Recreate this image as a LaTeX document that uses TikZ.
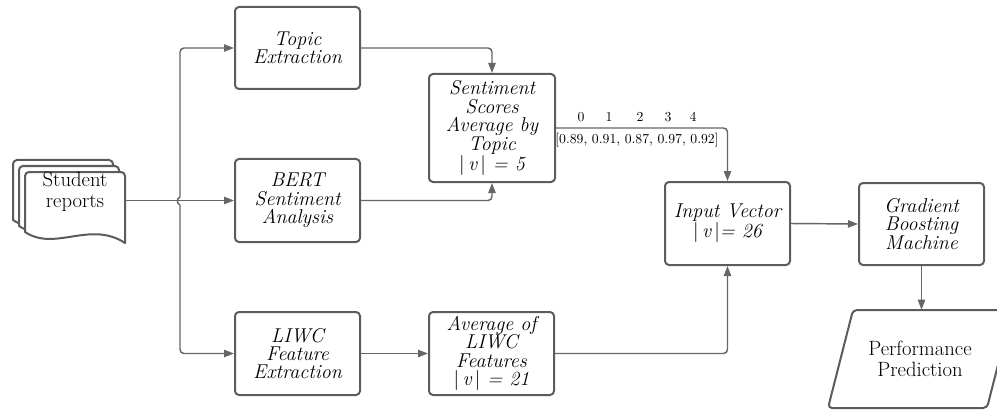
\documentclass[tikz,border=0pt]{standalone}
\usepackage{fontspec}
\usetikzlibrary{arrows.meta}
\definecolor{edgegray}{HTML}{666666}
\definecolor{boxgray}{HTML}{5C5C5C}
\newcommand{\vbar}{\textup{|}}

\begin{document}
\begin{tikzpicture}[x=0.75pt,y=-0.75pt,
  outline/.style={draw=boxgray, line width=1.5pt, line join=round},
  proc/.style={outline, rounded corners=3pt, fill=white, align=center,
    font=\fontsize{15}{13.8}\selectfont\itshape, inner sep=2pt},
  plainlabel/.style={align=center, font=\fontsize{15.5}{15.5}\selectfont, inner sep=0pt},
  plain/.style={draw=edgegray, line width=1.1pt, rounded corners=3pt},
  link/.style={plain, -{Triangle[length=7.5pt,width=5.5pt]}},
  idx/.style={font=\fontsize{10.3}{12}\selectfont, inner sep=0pt},
]
\useasboundingbox (0,0) rectangle (997,410);

% stacked document pages
\foreach \d in {12,6,0}{
  \begin{scope}[shift={(-\d,-\d)}]
    \draw[outline, fill=white] (125,243) .. controls (90,220) and (55,252) .. (25,232)
      [rounded corners=3pt] -- (25,172) -- (125,172) [sharp corners] -- cycle;
  \end{scope}
}
\node[minimum width=75pt, minimum height=52.5pt, inner sep=0pt] (doc) at (75,207) {};
\node[plainlabel] (doclabel) at (75,192) {Student\\reports};

% processing boxes
\node[proc, minimum width=93.75pt, minimum height=61.5pt] (topic) at (297.5,48) {Topic\\Extraction};
\node[proc, minimum width=93.75pt, minimum height=62.25pt] (bert) at (297.5,200.5) {BERT\\Sentiment\\Analysis};
\node[proc, minimum width=93.75pt, minimum height=62.25pt] (liwc) at (297.5,353.5) {LIWC\\Feature\\Extraction};
\node[proc, minimum width=94.5pt, minimum height=81pt] (sent) at (492,128)
  {Sentiment\\Scores\\Average by\\Topic\\\vbar\,v\,\vbar{} = 5};
\node[proc, minimum width=93.75pt, minimum height=62.25pt] (avg) at (491.5,353.5)
  {Average of\\LIWC\\Features\\\vbar\,v\,\vbar{} = 21};
\node[proc, minimum width=93.75pt, minimum height=62.25pt] (input) at (727.5,223.5)
  {Input Vector\\\vbar\,v\,\vbar= 26};
\node[proc, minimum width=93.75pt, minimum height=61.5pt] (gbm) at (921.5,224)
  {Gradient\\Boosting\\Machine};

% output parallelogram
\draw[outline, rounded corners=3pt] (853,310) -- (1012,310) -- (987,408) -- (828,408) -- cycle;
\node[plainlabel, minimum width=110pt, minimum height=73.5pt] (perf) at (920,359) {Performance\\Prediction};

% fan-out from the reports
\coordinate (hopup) at (180,197);
\coordinate (hopdown) at (180,205);
\draw[link] (doc.east |- bert.west) -- (bert.west);
\draw[link] (hopup) |- (topic.west);
\draw[link] (hopdown) |- (liwc.west);
\draw[plain] (hopup) .. controls (176.5,198.5) and (176.5,203.5) .. (hopdown);

% sentiment branch
\draw[link] (topic.east) -| (sent.north);
\draw[link] (bert.east) -| (sent.south);
\draw[link] (sent.east) -| (input.north);

% LIWC branch
\draw[link] (liwc.east) -- (avg.west);
\draw[link] (avg.east) -| (input.south);

% model and prediction
\draw[link] (input.east) -- (gbm.west);
\draw[link] (gbm.south) -- (gbm.south |- perf.north);

% per-topic score vector
\node[idx] (i0) at (581,117) {0};
\node[idx] (i1) at (609,117) {1};
\node[idx] (i2) at (640,117) {2};
\node[idx] (i3) at (668,117) {3};
\node[idx] (i4) at (693,117) {4};
\node[idx] (vec) at (637,140) {[0.89, 0.91, 0.87, 0.97, 0.92]};
\end{tikzpicture}
\end{document}
